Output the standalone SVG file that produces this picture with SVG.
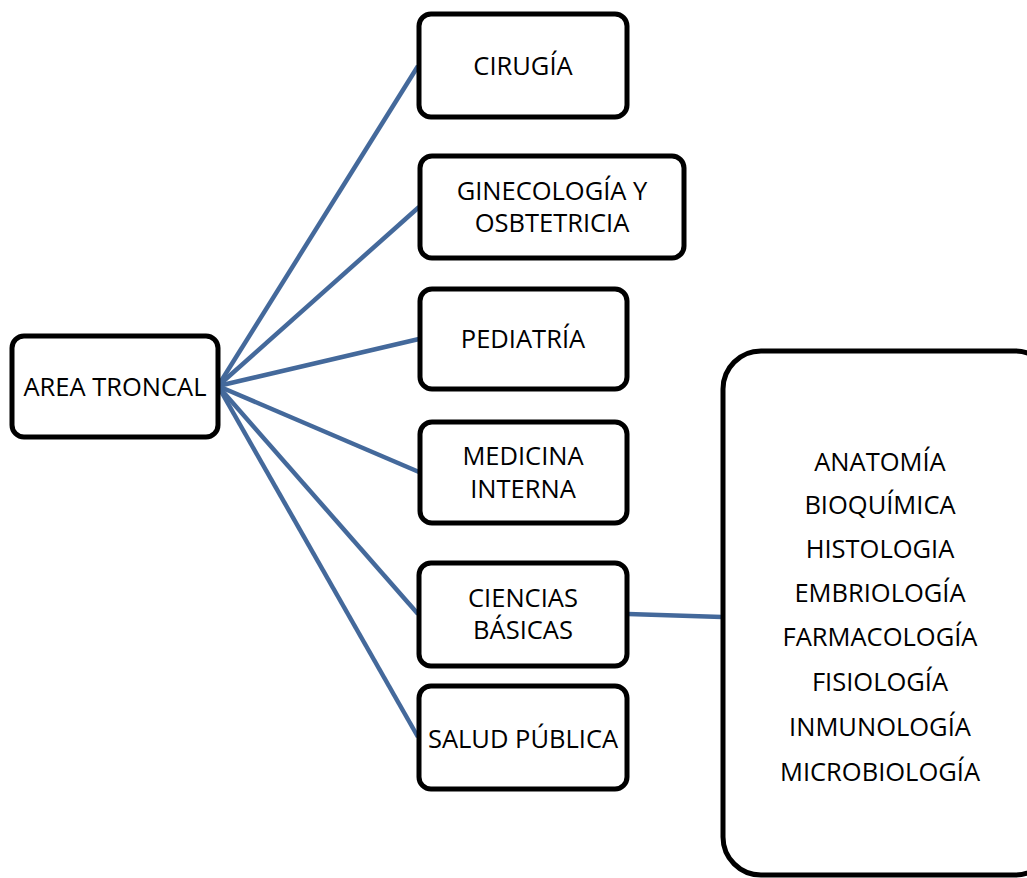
<svg xmlns="http://www.w3.org/2000/svg" width="1027" height="878" viewBox="0 0 1027 878">
<style>
.box{fill:#fff;stroke:#000;stroke-width:5}
.t{font-family:"Open Sans","Liberation Sans",sans-serif;font-size:25.5px;fill:#000;text-anchor:middle}
.c{stroke:#44699b;stroke-width:4.5;fill:none;stroke-linecap:butt}
</style>
<rect width="1027" height="878" fill="#fff"/>
<g id="connectors">
<line class="c" x1="218" y1="386" x2="418" y2="66"/>
<line class="c" x1="218" y1="386" x2="419" y2="207"/>
<line class="c" x1="218" y1="386" x2="419" y2="339"/>
<line class="c" x1="218" y1="386" x2="419" y2="472"/>
<line class="c" x1="218" y1="386" x2="418" y2="614"/>
<line class="c" x1="218" y1="386" x2="418" y2="737"/>
<line class="c" x1="628" y1="614" x2="722" y2="617"/>
</g>
<g id="area-troncal">
<rect class="box" x="12" y="336" width="206" height="101" rx="12"/>
<text class="t" x="115" y="396">AREA TRONCAL</text>
</g>
<g id="cirugia">
<rect class="box" x="419" y="14" width="208" height="103" rx="12"/>
<text class="t" x="523" y="75">CIRUGÍA</text>
</g>
<g id="ginecologia">
<rect class="box" x="420" y="156" width="264" height="102" rx="12"/>
<text class="t" x="552" y="200">GINECOLOGÍA Y</text>
<text class="t" x="552" y="232">OSBTETRICIA</text>
</g>
<g id="pediatria">
<rect class="box" x="420" y="289" width="207" height="100" rx="12"/>
<text class="t" x="523" y="348">PEDIATRÍA</text>
</g>
<g id="medicina-interna">
<rect class="box" x="420" y="422" width="207" height="101" rx="12"/>
<text class="t" x="523" y="465">MEDICINA</text>
<text class="t" x="523" y="498">INTERNA</text>
</g>
<g id="ciencias-basicas">
<rect class="box" x="419" y="563" width="208" height="103" rx="12"/>
<text class="t" x="523" y="607">CIENCIAS</text>
<text class="t" x="523" y="639">BÁSICAS</text>
</g>
<g id="salud-publica">
<rect class="box" x="419" y="686" width="208" height="103" rx="12"/>
<text class="t" x="523" y="748">SALUD PÚBLICA</text>
</g>
<g id="basicas-list">
<rect class="box" x="723" y="351" width="330" height="524" rx="38"/>
<text class="t" x="880" y="471">ANATOMÍA</text>
<text class="t" x="880" y="514">BIOQUÍMICA</text>
<text class="t" x="880" y="558">HISTOLOGIA</text>
<text class="t" x="880" y="602">EMBRIOLOGÍA</text>
<text class="t" x="880" y="646">FARMACOLOGÍA</text>
<text class="t" x="880" y="691">FISIOLOGÍA</text>
<text class="t" x="880" y="736">INMUNOLOGÍA</text>
<text class="t" x="880" y="781">MICROBIOLOGÍA</text>
</g>
</svg>
